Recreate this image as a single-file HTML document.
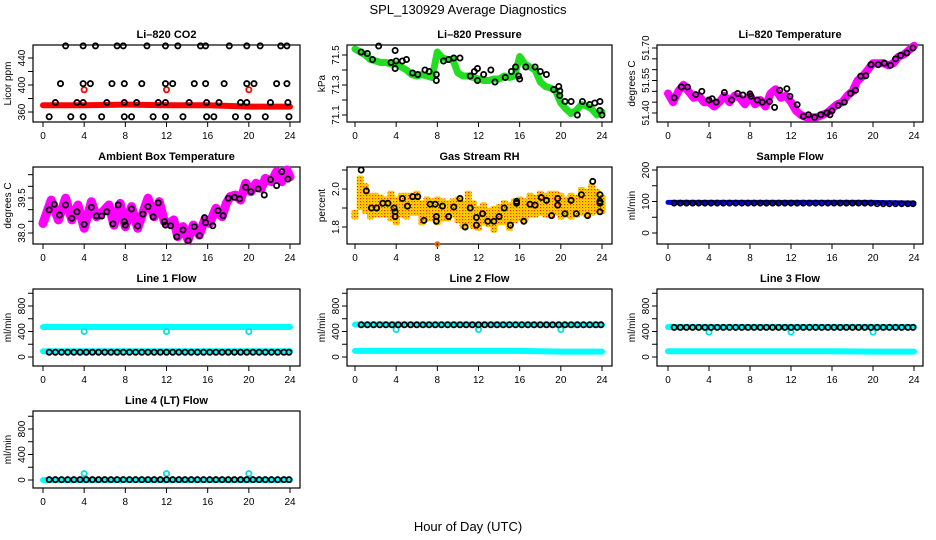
<!DOCTYPE html>
<html><head><meta charset="utf-8">
<style>
html,body{margin:0;padding:0;background:#fff;}
svg{display:block;font-family:"Liberation Sans",sans-serif;}
</style></head>
<body>
<svg id="chart" width="936" height="540" viewBox="0 0 936 540" xmlns="http://www.w3.org/2000/svg">
<defs>
<pattern id="speck" width="3" height="3" patternUnits="userSpaceOnUse">
<rect width="3" height="3" fill="#ffdd00"/>
<rect x="0" y="0" width="1.2" height="1.2" fill="#ff2200"/>
<rect x="1.5" y="1.5" width="1" height="1" fill="#ff7700"/>
</pattern>
</defs>
<rect width="936" height="540" fill="#fff"/>
<text x="468" y="14" font-size="13" text-anchor="middle">SPL_130929  Average Diagnostics</text>
<text x="468" y="531" font-size="13" text-anchor="middle">Hour of Day (UTC)</text>
</svg>
<script>
// ---------- DATA ----------
const xTicks = [0,4,8,12,16,20,24];
// CO2
const co2LineT = [0,4,8,12,16,20,24];
const co2LineV = [370,370,371,370,370,368,368];
const co2T = [2.2,3.9,5.1,7.2,7.8,10.1,11.9,13.1,15.3,15.8,18.1,19.8,21.1,23.1,23.7,
  1.7,3.9,4.6,6.7,7.9,9.6,11.9,12.6,14.7,15.8,17.6,19.8,20.5,22.7,23.7,
  1.2,3.3,3.9,6.2,7.9,9.1,11.2,11.9,14.2,15.9,17.1,19.2,19.8,22.1,23.8,
  0.6,2.7,3.9,5.7,7.9,8.6,10.7,11.9,13.6,15.9,16.6,18.7,19.9,21.6,23.9];
const co2V = [458,458,458,458,458,458,458,458,458,458,458,458,458,458,458,
  402,402,402,402,402,402,402,402,402,402,402,402,402,402,402,
  374,374,374,374,374,374,374,374,374,374,374,374,374,374,374,
  353,353,353,353,353,353,353,353,353,353,353,353,353,353,353];
const co2RedT = [4,12,20];
const co2RedV = [393,393,393];
// Pressure
const presT = [0,0.5,1,1.5,2,2.5,3,3.5,4,4.5,5,5.5,6,6.5,7,7.5,8,8.5,9,9.5,10,10.5,11,11.5,12,12.5,13,13.5,14,14.5,15,15.5,16,16.5,17,17.5,18,18.5,19,19.5,20,20.5,21,21.5,22,22.5,23,23.5,24];
const presV = [71.54,71.52,71.50,71.47,71.46,71.45,71.45,71.44,71.44,71.42,71.40,71.37,71.36,71.37,71.36,71.35,71.52,71.48,71.47,71.47,71.38,71.36,71.36,71.35,71.34,71.33,71.33,71.34,71.34,71.36,71.35,71.36,71.49,71.44,71.42,71.40,71.32,71.29,71.28,71.26,71.18,71.14,71.11,71.13,71.17,71.16,71.14,71.10,71.12];
const presPtT = [0.6,1.2,2.3,1.7,3.5,3.9,4,3.9,4.6,5,5.6,6.1,6.8,7.2,7.9,7.9,8.6,9.1,9.6,10.2,11.2,11.6,11.9,11.9,12.5,13.2,13.6,14.6,15.2,15.6,15.9,16,16.6,17.5,18,18.6,19.3,19.8,19.9,19.9,20.4,21,21.6,22.1,22.8,23.3,23.8,23.8,24];
const presPtV = [71.52,71.51,71.56,71.47,71.45,71.53,71.46,71.41,71.46,71.47,71.38,71.37,71.40,71.39,71.37,71.33,71.46,71.47,71.48,71.48,71.36,71.39,71.33,71.41,71.37,71.40,71.32,71.35,71.39,71.42,71.36,71.34,71.42,71.42,71.39,71.37,71.27,71.29,71.26,71.23,71.19,71.19,71.10,71.19,71.17,71.18,71.19,71.13,71.10];
// Li-820 temperature
const tempT = presT;
const tempV = [51.49,51.45,51.50,51.53,51.50,51.47,51.48,51.45,51.45,51.43,51.45,51.48,51.45,51.48,51.47,51.44,51.48,51.44,51.46,51.43,51.49,51.51,51.47,51.48,51.45,51.41,51.39,51.38,51.38,51.38,51.39,51.40,51.42,51.44,51.45,51.48,51.50,51.55,51.57,51.60,51.63,51.63,51.63,51.62,51.63,51.66,51.67,51.69,51.71];
const tempPtT = [0.6,1.3,1.9,2.7,3.3,4.0,4.3,4.7,5.5,6.2,6.8,7.3,8.0,8.1,8.7,9.2,9.9,10.4,10.9,11.6,11.9,12.6,13.2,13.7,14.3,14.9,15.5,15.8,16.0,16.6,17.2,17.8,18.3,18.8,19.3,19.8,20.5,21.1,21.7,22.2,22.7,23.3,23.9];
const tempPtV = [51.47,51.52,51.52,51.485,51.50,51.46,51.466,51.45,51.495,51.46,51.49,51.483,51.488,51.477,51.46,51.45,51.453,51.426,51.505,51.512,51.477,51.438,51.385,51.392,51.38,51.392,51.40,51.392,51.41,51.435,51.45,51.49,51.505,51.57,51.572,51.623,51.623,51.63,51.62,51.65,51.666,51.677,51.70];
// Ambient box temperature
const ambT = [0,0.8,1.5,2.2,2.8,3.4,4,4.7,5.2,5.8,6.4,6.9,7.5,8.0,8.6,9.2,9.8,10.2,10.8,11.3,11.8,12.2,12.7,13.1,13.6,14.1,14.6,15.2,15.7,16.2,16.8,17.4,17.8,18.2,18.7,19.2,19.7,20.2,20.7,21.2,21.6,22.2,22.7,23.2,23.7,24];
const ambV = [38.41,39.41,38.56,39.49,38.56,39.2,38.2,39.34,38.7,38.91,39.2,38.34,39.27,38.27,39.13,38.2,38.99,39.49,38.7,39.34,38.49,38.41,38.56,37.84,38.27,37.7,38.34,37.91,38.56,38.41,39.06,38.7,39.27,39.56,39.63,39.41,40.13,39.77,40.13,39.91,40.34,40.2,40.63,40.2,40.7,40.41];
const ambPtT = [0.6,1.1,1.6,2.2,2.8,3.3,4.0,4.7,5.2,5.7,6.2,6.8,7.3,7.9,8.0,8.6,9.2,9.7,10.2,10.7,11.2,11.8,11.9,12.4,13.0,13.6,14.1,14.7,15.2,15.7,15.8,16.5,17.0,17.5,18.0,18.6,19.1,19.7,20.2,20.9,21.5,22.1,22.7,23.2,23.8];
const ambPtV = [38.99,39.23,38.77,39.20,38.63,38.91,38.37,39.10,38.73,38.73,38.91,38.39,39.20,38.49,38.34,39.03,38.30,38.81,39.13,38.69,39.29,38.49,38.34,38.31,37.84,38.13,37.67,38.27,37.89,38.66,38.44,38.31,38.96,38.74,39.49,39.53,39.46,39.96,39.77,39.89,39.63,40.29,40.03,40.63,40.31];
// Gas stream RH (range band)
const rhT = presT;
const rhLo = [1.85,1.90,1.88,1.85,1.86,1.86,1.86,1.84,1.82,1.86,1.85,1.87,1.87,1.82,1.84,1.84,1.82,1.84,1.84,1.86,1.83,1.80,1.82,1.80,1.79,1.82,1.81,1.78,1.82,1.82,1.79,1.83,1.84,1.83,1.86,1.86,1.87,1.86,1.86,1.87,1.85,1.86,1.85,1.86,1.87,1.86,1.87,1.88,1.88];
const rhHi = [1.88,2.06,2.02,1.97,1.97,1.96,1.95,1.98,1.95,1.97,1.97,1.97,1.98,1.93,1.95,1.94,1.95,1.94,1.93,1.94,1.95,1.93,1.98,1.93,1.90,1.92,1.89,1.90,1.91,1.93,1.92,1.94,1.95,1.94,1.97,1.96,1.98,1.97,1.98,1.98,1.97,1.95,1.97,1.96,2.00,1.99,2.02,1.99,1.96];
const rhOutT = [8];
const rhOutV = [1.71];
const rhPtT = [0.6,1.1,1.6,2.1,2.7,3.2,3.8,3.9,3.9,4.6,5.1,5.6,6.1,6.7,7.3,7.8,7.9,7.9,8.5,9.1,9.6,10.2,10.7,11.2,11.8,11.8,12.4,12.9,13.5,14.0,14.5,15.1,15.7,15.7,16.4,17.0,17.5,18.1,18.6,19.1,19.7,19.7,20.4,21.0,21.5,22.0,22.6,23.1,23.8,23.8,23.8,23.8];
const rhPtV = [2.10,1.99,1.90,1.90,1.925,1.925,1.90,1.88,1.855,1.95,1.91,1.96,1.96,1.835,1.92,1.92,1.855,1.83,1.91,1.855,1.905,1.95,1.80,1.90,1.85,1.81,1.87,1.83,1.83,1.855,1.90,1.81,1.935,1.925,1.83,1.92,1.915,1.955,1.94,1.86,1.95,1.915,1.87,1.94,1.87,1.97,1.86,2.04,1.97,1.935,1.925,1.88];
// Flows
const bandT = [0,4,8,12,16,20,24];
const flowT = [0.6,1.2,1.8,2.4,3.0,3.6,4.2,4.8,5.4,6.0,6.6,7.2,7.8,8.4,9.0,9.6,10.2,10.8,11.4,12.0,12.6,13.2,13.8,14.4,15.0,15.6,16.2,16.8,17.4,18.0,18.6,19.2,19.8,20.4,21.0,21.6,22.2,22.8,23.4,23.9];
const sampleBlue = [97,97,97,97,97,97,95];
const sampleBlack = [95,95,95,95,95,95,95,95,95,95,95,95,95,95,95,95,95,95,95,95,95,95,95,95,95,95,95,95,95,95,95,95,95,93,93,93,93,93,93,93];
const line1CyanHi = [470,470,470,470,470,470,470];
const line1CyanLo = [90,90,90,90,90,90,90];
const line1Black = [75,75,75,75,75,75,75,75,75,75,75,75,75,75,75,75,75,75,75,75,75,75,75,75,75,75,75,75,75,75,75,75,75,75,75,75,75,75,75,75];
const line2CyanHi = [510,510,510,510,510,505,505];
const line2CyanLo = [95,95,95,95,95,85,85];
const line2Black = [505,505,505,505,505,505,505,505,505,505,505,505,505,505,505,505,505,505,505,505,505,505,505,505,505,505,505,505,505,505,505,505,505,505,505,505,505,505,505,505];
const line3CyanHi = [470,470,470,470,470,470,470];
const line3CyanLo = [90,90,90,90,90,85,85];
const line3Black = [465,465,465,465,465,465,465,465,465,465,465,465,465,465,465,465,465,465,465,465,465,465,465,465,465,465,465,465,465,465,465,465,465,465,465,465,465,465,465,465];
const line4Cyan = [0,0,0,0,0,0,0];
const line4Black = [5,5,5,5,5,5,5,5,5,5,5,5,5,5,5,5,5,5,5,5,5,5,5,5,5,5,5,5,5,5,5,5,5,5,5,5,5,5,5,5];
const dipT = [4,12,20];
const line1Dip = [400,400,400];
const line2Dip = [430,430,430];
const line3Dip = [390,390,390];
const line4Spike = [100,100,100];
// Y ticks / labels
const co2Ticks = [360,380,400,420,440], co2Labels = [360,400,440];
const presTicks = [71.1,71.2,71.3,71.4,71.5], presLabels = ["71.1","71.3","71.5"];
const tempTicks = [51.40,51.45,51.50,51.55,51.60,51.65,51.70], tempLabels = ["51.40","51.55","51.70"];
const ambTicks = [38.0,38.5,39.0,39.5,40.0,40.5], ambLabels = ["38.0","39.5"];
const rhTicks = [1.8,1.9,2.0,2.1], rhLabels = ["1.8","2.0"];
const sampleTicks = [0,50,100,150,200], sampleLabels = ["0","100","200"];
const flowTicks = [0,200,400,600,800,1000], flowLabels = ["0","400","800"];

// ---------- DRAWING ----------
const NS = "http://www.w3.org/2000/svg";
const svg = document.getElementById('chart');
function mk(tag, attrs, parent){
  const e = document.createElementNS(NS, tag);
  for (const k in attrs) e.setAttribute(k, attrs[k]);
  (parent||svg).appendChild(e);
  return e;
}
const cols = [{L:33,R:300,x0:43,x24:290},{L:347,R:612,x0:355,x24:602},{L:657,R:923,x0:668,x24:914}];
const rows = [{T:45,B:122},{T:167,B:244},{T:289,B:366},{T:411,B:488}];

function makePanel(name, title, ytitle, c, r, v1, p1, v2, p2, ticks, labels){
  const col = cols[c], row = rows[r];
  const g = mk('g', {});
  
  
  const P = {g, xs: t => col.x0 + t*(col.x24-col.x0)/24, ys: v => p1 + (v-v1)*(p2-p1)/(v2-v1)};
  const box = mk('rect', {x:col.L, y:row.T, width:col.R-col.L, height:row.B-row.T, fill:'none', stroke:'#000', 'stroke-width':1.2}, g);
  
  
  const tt = mk('text', {x:(col.L+col.R)/2, y:row.T-7, 'font-size':11, 'font-weight':'bold', 'text-anchor':'middle'}, g);
  tt.textContent = title;
  
  
  const yt = mk('text', {transform:`translate(${col.L-22},${(row.T+row.B)/2}) rotate(-90)`, 'font-size':10, 'text-anchor':'middle'}, g);
  yt.textContent = ytitle;
  
  
  xTicks.forEach(t => {
    const x = P.xs(t);
    mk('line', {x1:x, x2:x, y1:row.B, y2:row.B+5, stroke:'#000'}, g);
    const lb = mk('text', {x:x, y:row.B+17, 'font-size':10, 'text-anchor':'middle'}, g);
    lb.textContent = t;
    
    
  });
  ticks.forEach(v => {
    const y = P.ys(v);
    mk('line', {x1:col.L-5, x2:col.L, y1:y, y2:y, stroke:'#000'}, g);
  });
  labels.forEach(v => {
    const y = P.ys(parseFloat(v));
    const lb = mk('text', {transform:`translate(${col.L-8},${y}) rotate(-90)`, 'font-size':10, 'text-anchor':'middle'}, g);
    lb.textContent = v;
    
    
  });
  return P;
}
function band(P, ts, vs, color, w, name){
  const pts = ts.map((t,i)=>P.xs(t).toFixed(1)+','+P.ys(vs[i]).toFixed(1)).join(' ');
  const e = mk('polyline', {points:pts, fill:'none', stroke:color, 'stroke-width':w, 'stroke-linejoin':'round', 'stroke-linecap':'round'}, P.g);
  
  
}
function circles(P, ts, vs, color, name, r){
  ts.forEach((t,i) => {
    const e = mk('circle', {cx:P.xs(t), cy:P.ys(vs[i]), r:r||2.6, fill:'none', stroke:color, 'stroke-width':1.8}, P.g);
    
    
  });
}

let P = makePanel('co2-panel','Li\u2013820 CO2','Licor ppm',0,0,360,112,440,58,co2Ticks,co2Labels);
band(P, co2LineT, co2LineV, '#ff0000', 6, 'co2-red-series');
circles(P, co2RedT, co2RedV, '#ff0000', 'co2-red-point');
circles(P, co2T, co2V, '#000', 'co2-black-point');

P = makePanel('pressure-panel','Li\u2013820 Pressure','kPa',1,0,71.1,115,71.5,55,presTicks,presLabels);
band(P, presT, presV, '#22dd22', 7, 'pressure-green-series');
circles(P, presPtT, presPtV, '#000', 'pressure-point');

P = makePanel('li820-temp-panel','Li\u2013820 Temperature','degrees C',2,0,51.40,113,51.70,48,tempTicks,tempLabels);
band(P, tempT, tempV, '#ff00ff', 8, 'li820-temp-magenta-series');
circles(P, tempPtT, tempPtV, '#000', 'li820-temp-point');

P = makePanel('ambient-temp-panel','Ambient Box Temperature','degrees C',0,1,38.0,233,39.5,198,ambTicks,ambLabels);
band(P, ambT, ambV, '#ff00ff', 9, 'ambient-magenta-series');
circles(P, ambPtT, ambPtV, '#000', 'ambient-point');

P = makePanel('rh-panel','Gas Stream RH','percent',1,1,1.8,227,2.0,189,rhTicks,rhLabels);
rhT.forEach((t,i) => {
  const y1 = P.ys(rhHi[i]), y2 = P.ys(rhLo[i]);
  const e = mk('rect', {x:P.xs(t)-3.5, y:y1-2, width:7, height:y2-y1+4, rx:2, fill:'url(#speck)'}, P.g);
  
  
});
circles(P, rhOutT, rhOutV, '#ff6600', 'rh-outlier', 2);
circles(P, rhPtT, rhPtV, '#000', 'rh-point');

P = makePanel('sample-flow-panel','Sample Flow','ml/min',2,1,0,233,200,170,sampleTicks,sampleLabels);
band(P, bandT, sampleBlue, '#0000ee', 5, 'sample-blue-series');
circles(P, flowT, sampleBlack, '#000', 'sample-black-point');

P = makePanel('line1-flow-panel','Line 1 Flow','ml/min',0,2,0,357,800,306,flowTicks,flowLabels);
band(P, bandT, line1CyanHi, '#00ffff', 6, 'line1-cyan-high');
band(P, bandT, line1CyanLo, '#00ffff', 6, 'line1-cyan-low');
circles(P, dipT, line1Dip, '#00e0e0', 'line1-dip');
circles(P, flowT, line1Black, '#000', 'line1-black-point');

P = makePanel('line2-flow-panel','Line 2 Flow','ml/min',1,2,0,357,800,306,flowTicks,flowLabels);
band(P, bandT, line2CyanHi, '#00ffff', 6, 'line2-cyan-high');
band(P, bandT, line2CyanLo, '#00ffff', 6, 'line2-cyan-low');
circles(P, dipT, line2Dip, '#00e0e0', 'line2-dip');
circles(P, flowT, line2Black, '#000', 'line2-black-point');

P = makePanel('line3-flow-panel','Line 3 Flow','ml/min',2,2,0,357,800,306,flowTicks,flowLabels);
band(P, bandT, line3CyanHi, '#00ffff', 6, 'line3-cyan-high');
band(P, bandT, line3CyanLo, '#00ffff', 6, 'line3-cyan-low');
circles(P, dipT, line3Dip, '#00e0e0', 'line3-dip');
circles(P, flowT, line3Black, '#000', 'line3-black-point');

P = makePanel('line4-flow-panel','Line 4 (LT) Flow','ml/min',0,3,0,480,800,429,flowTicks,flowLabels);
band(P, bandT, line4Cyan, '#00ffff', 6, 'line4-cyan');
circles(P, dipT, line4Spike, '#00e0e0', 'line4-spike');
circles(P, flowT, line4Black, '#000', 'line4-black-point');
</script>
</body></html>
